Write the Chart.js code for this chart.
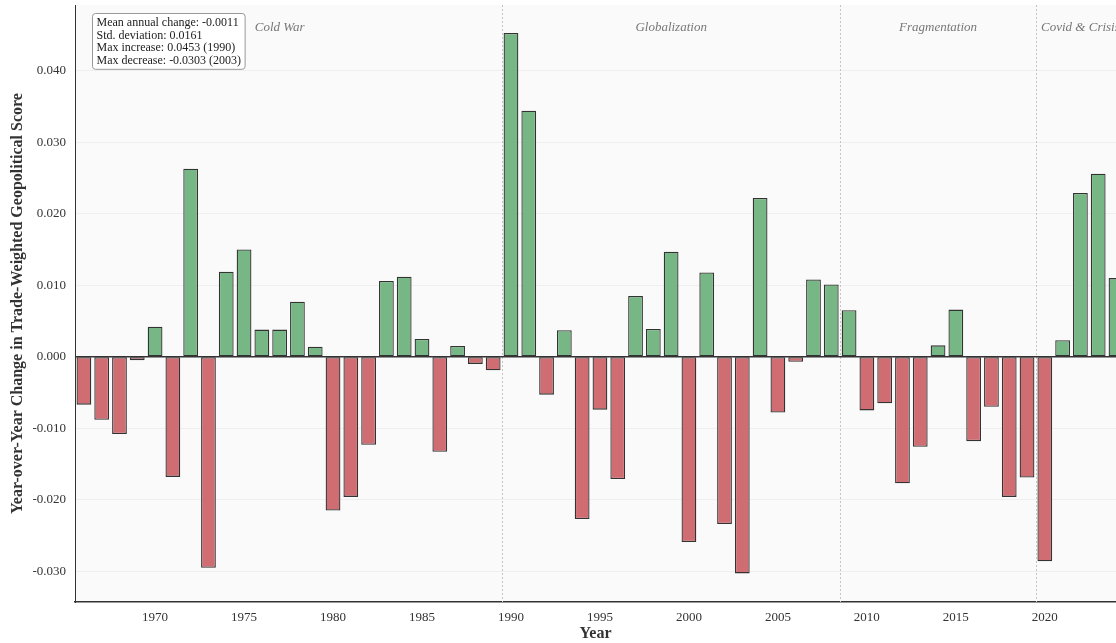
<!DOCTYPE html>
<html>
<head>
<meta charset="utf-8">
<script src="https://cdn.jsdelivr.net/npm/chart.js@4"></script>
<style>
  body { margin: 0; background: #fff; }
  #wrap { width: 1116px; height: 643px; position: relative; }
</style>
</head>
<body>
<div id="wrap"><canvas id="chart"></canvas></div>
<script>
const years = [1966, 1967, 1968, 1969, 1970, 1971, 1972, 1973, 1974, 1975,
  1976, 1977, 1978, 1979, 1980, 1981, 1982, 1983, 1984, 1985,
  1986, 1987, 1988, 1989, 1990, 1991, 1992, 1993, 1994, 1995,
  1996, 1997, 1998, 1999, 2000, 2001, 2002, 2003, 2004, 2005,
  2006, 2007, 2008, 2009, 2010, 2011, 2012, 2013, 2014, 2015,
  2016, 2017, 2018, 2019, 2020, 2021, 2022, 2023, 2024];
const changes = [-0.0067, -0.0088, -0.0108, -0.0005, 0.0042, -0.0168, 0.0263, -0.0295, 0.0119, 0.0150,
  0.0038, 0.0038, 0.0077, 0.0014, -0.0215, -0.0196, -0.0123, 0.0106, 0.0112, 0.0025,
  -0.0133, 0.0015, -0.0010, -0.0019, 0.0453, 0.0344, -0.0053, 0.0037, -0.0227, -0.0074,
  -0.0171, 0.0085, 0.0039, 0.0147, -0.0259, 0.0118, -0.0234, -0.0303, 0.0222, -0.0078,
  -0.0007, 0.0108, 0.0101, 0.0065, -0.0075, -0.0065, -0.0177, -0.0126, 0.0016, 0.0066,
  -0.0118, -0.0070, -0.0196, -0.0169, -0.0286, 0.0023, 0.0229, 0.0256, 0.0110];
const xTicks = [1970, 1975, 1980, 1985, 1990, 1995, 2000, 2005, 2010, 2015, 2020];
const yTicks = [-0.03, -0.02, -0.01, 0, 0.01, 0.02, 0.03, 0.04];
const eraNames = ['Cold War', 'Globalization', 'Fragmentation', 'Covid & Crisis'];
const eraBounds = [1964.5, 1989.5, 2008.5, 2019.5, 2024.5];
const statLines = [
  'Mean annual change: -0.0011',
  'Std. deviation: 0.0161',
  'Max increase: 0.0453 (1990)',
  'Max decrease: -0.0303 (2003)'
];

const FONT = "'Liberation Serif', 'DejaVu Serif', serif";
const GREEN = '#77b785';
const RED = '#cf6d72';

// plot background, era dividers and labels
const backdrop = {
  id: 'backdrop',
  beforeDraw(chart) {
    const { ctx, chartArea: a } = chart;
    ctx.save();
    ctx.fillStyle = '#fafafa';
    ctx.fillRect(a.left, a.top, a.right - a.left, a.bottom - a.top);
    ctx.restore();
  },
  beforeDatasetsDraw(chart) {
    const { ctx, chartArea: a, scales: { x } } = chart;
    ctx.save();
    ctx.strokeStyle = '#c4c4c4';
    ctx.lineWidth = 1;
    ctx.setLineDash([2, 2]);
    for (let i = 1; i < eraBounds.length - 1; i++) {
      const px = Math.round(x.getPixelForValue(eraBounds[i])) + 0.5;
      ctx.beginPath();
      ctx.moveTo(px, a.top);
      ctx.lineTo(px, a.bottom);
      ctx.stroke();
    }
    ctx.setLineDash([]);
    ctx.fillStyle = '#777';
    ctx.font = 'italic 13px ' + FONT;
    ctx.textAlign = 'center';
    ctx.textBaseline = 'middle';
    eraNames.forEach((name, i) => {
      const mid = (eraBounds[i] + eraBounds[i + 1]) / 2;
      ctx.fillText(name, x.getPixelForValue(mid), a.top + 23);
    });
    ctx.restore();
  },
  afterDatasetsDraw(chart) {
    const { ctx, chartArea: a, scales: { y } } = chart;
    ctx.save();
    // zero line
    const y0 = y.getPixelForValue(0);
    ctx.strokeStyle = '#333';
    ctx.lineWidth = 1.5;
    ctx.beginPath();
    ctx.moveTo(a.left, y0);
    ctx.lineTo(a.right, y0);
    ctx.stroke();

    // stats box
    ctx.font = '12px ' + FONT;
    const lh = 12.7;
    const w = Math.max(...statLines.map(s => ctx.measureText(s).width)) + 8;
    const h = lh * statLines.length + 5;
    const bx = a.left + 17.5, by = a.top + 8.5;
    ctx.fillStyle = 'rgba(255,255,255,0.9)';
    ctx.strokeStyle = '#999';
    ctx.lineWidth = 1;
    ctx.beginPath();
    ctx.roundRect(bx, by, w, h, 3);
    ctx.fill();
    ctx.stroke();
    ctx.fillStyle = '#222';
    ctx.textBaseline = 'middle';
    statLines.forEach((s, i) => ctx.fillText(s, bx + 4, by + 3 + lh * (i + 0.5)));
    ctx.restore();
  }
};

new Chart(document.getElementById('chart'), {
  type: 'bar',
  data: {
    datasets: [{
      data: years.map((yr, i) => ({ x: yr, y: changes[i] })),
      backgroundColor: changes.map(v => v >= 0 ? GREEN : RED),
      borderColor: '#333',
      borderWidth: 1.3,
      borderSkipped: false,
      barPercentage: 0.83,
      categoryPercentage: 1.0
    }]
  },
  options: {
    responsive: true,
    maintainAspectRatio: false,
    animation: false,
    layout: { padding: { top: 5, right: 0, left: 0, bottom: 0 } },
    plugins: {
      legend: { display: false },
      tooltip: { enabled: false }
    },
    scales: {
      x: {
        type: 'linear',
        min: 1965.5,
        max: 2024,
        offset: false,
        afterBuildTicks: s => { s.ticks = xTicks.map(v => ({ value: v })); },
        afterFit: s => { s.height = 41; s.paddingLeft = 0; s.paddingRight = 0; },
        grid: { display: false, drawTicks: false },
        border: { display: true, color: '#333', width: 1.5 },
        ticks: {
          padding: 8,
          maxRotation: 0,
          color: '#333',
          font: { family: FONT, size: 13 },
          callback: v => String(v)
        },
        title: {
          display: true,
          text: 'Year',
          color: '#333',
          padding: { top: 0, bottom: 0 },
          font: { family: FONT, size: 16, weight: 'bold' }
        }
      },
      y: {
        min: -0.0343,
        max: 0.0492,
        afterBuildTicks: s => { s.ticks = yTicks.map(v => ({ value: v })); },
        afterFit: s => { s.width = 75; s.paddingTop = 0; s.paddingBottom = 0; },
        grid: { color: 'rgba(0,0,0,0.045)', drawTicks: false },
        border: { display: true, color: '#333', width: 1 },
        ticks: {
          padding: 9,
          color: '#333',
          font: { family: FONT, size: 13 },
          callback: v => v.toFixed(3)
        },
        title: {
          display: true,
          text: 'Year-over-Year Change in Trade-Weighted Geopolitical Score',
          color: '#333',
          padding: { top: 8, bottom: 0 },
          font: { family: FONT, size: 16, weight: 'bold' }
        }
      }
    }
  },
  plugins: [backdrop]
});
</script>
</body>
</html>
